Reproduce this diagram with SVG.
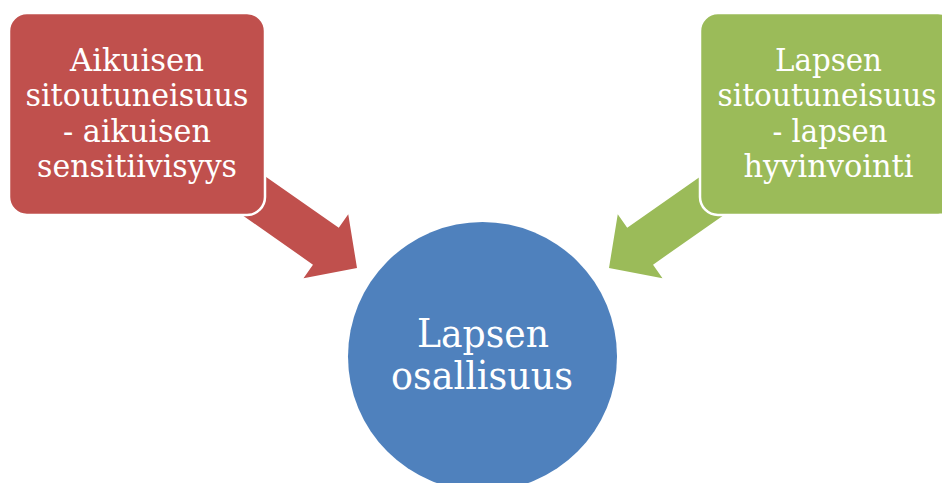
<svg xmlns="http://www.w3.org/2000/svg" width="942" height="483" viewBox="0 0 942 483">
  <style>
    .box { stroke: #ffffff; stroke-width: 2.5; }
    .red { fill: #C0504D; }
    .green { fill: #9BBB59; }
    .blue { fill: #4F81BD; }
    .label { font-family: "DejaVu Serif", "Liberation Serif", serif; fill: #ffffff; text-anchor: middle; }
    .small { font-size: 32px; }
    .big { font-size: 40px; }
  </style>
  <defs>
    <!-- block arrow pointing along +x, tip at origin -->
    <polygon id="block-arrow" points="0,0 -38,-39 -38,-22.5 -210,-22.5 -210,22.5 -38,22.5 -38,39"/>
  </defs>

  <g id="connectors">
    <use href="#block-arrow" class="red" transform="translate(357,268) rotate(35)"/>
    <use href="#block-arrow" class="green" transform="translate(609,268) scale(-1,1) rotate(35)"/>
  </g>

  <g id="node-aikuisen">
    <rect class="box red" x="9" y="13" width="256" height="202" rx="18"/>
    <text class="label small" x="137" y="70.5" textLength="134" lengthAdjust="spacingAndGlyphs">Aikuisen</text>
    <text class="label small" x="137" y="106" textLength="223" lengthAdjust="spacingAndGlyphs">sitoutuneisuus</text>
    <text class="label small" x="137" y="141.5" textLength="148" lengthAdjust="spacingAndGlyphs">- aikuisen</text>
    <text class="label small" x="137" y="177" textLength="200" lengthAdjust="spacingAndGlyphs">sensitiivisyys</text>
  </g>

  <g id="node-lapsen">
    <rect class="box green" x="700" y="13" width="256" height="202" rx="18"/>
    <text class="label small" x="828.5" y="70.5" textLength="107" lengthAdjust="spacingAndGlyphs">Lapsen</text>
    <!-- widest line: narrowed with a horizontal scale so it stays inside the page -->
    <text class="label small" transform="translate(827,106) scale(0.925,1)" x="0" y="0">sitoutuneisuus</text>
    <text class="label small" x="830" y="141.5" textLength="115" lengthAdjust="spacingAndGlyphs">- lapsen</text>
    <text class="label small" x="828.5" y="177" textLength="170" lengthAdjust="spacingAndGlyphs">hyvinvointi</text>
  </g>

  <g id="node-osallisuus">
    <circle class="blue" cx="482.5" cy="356.5" r="134.5"/>
    <text class="label big" x="483" y="347" textLength="132" lengthAdjust="spacingAndGlyphs">Lapsen</text>
    <text class="label big" x="482" y="389" textLength="182" lengthAdjust="spacingAndGlyphs">osallisuus</text>
  </g>
</svg>
